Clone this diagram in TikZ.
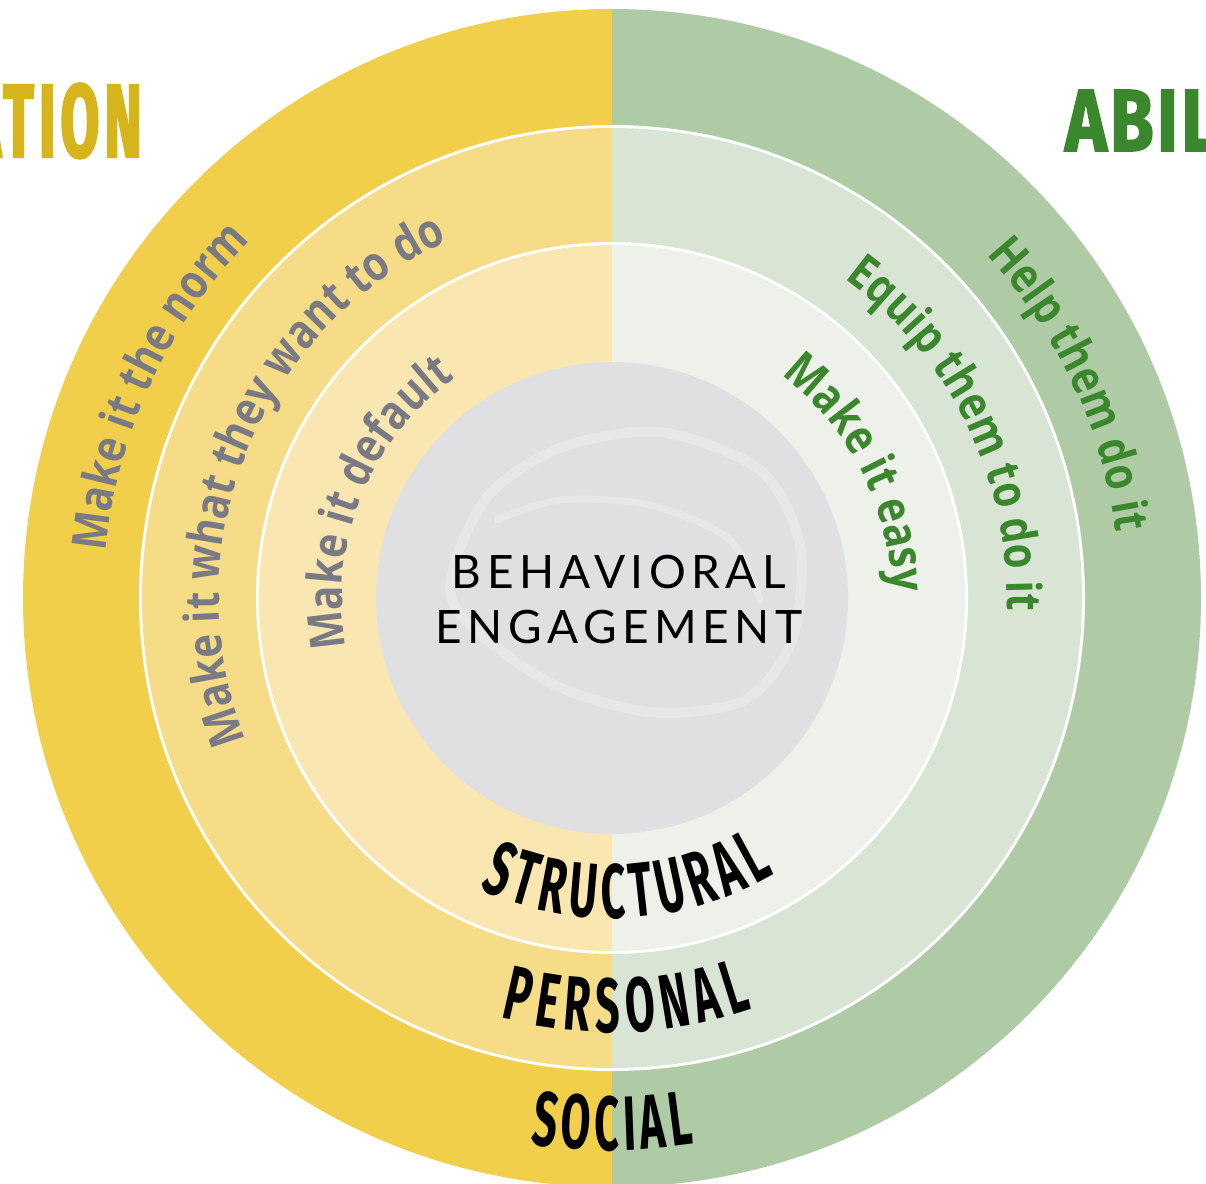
\documentclass[tikz,border=0pt]{standalone}
\usepackage{fontspec}
\usetikzlibrary{decorations.text}
\newfontfamily\ringfont[FakeStretch=0.84]{Open Sans}
\newfontfamily\bandfont[FakeStretch=0.56]{Fira Sans}
\newfontfamily\motivfont[FakeStretch=0.54,FakeBold=2,LetterSpace=5]{Fira Sans}
\newfontfamily\abilfont[FakeStretch=0.8,FakeBold=2,LetterSpace=4]{Fira Sans}
\newfontfamily\corefont[LetterSpace=12]{Lato}
\definecolor{yA}{RGB}{242,207,75}
\definecolor{yB}{RGB}{246,220,135}
\definecolor{yC}{RGB}{250,230,176}
\definecolor{gA}{RGB}{175,203,165}
\definecolor{gB}{RGB}{216,228,212}
\definecolor{gC}{RGB}{238,240,234}
\definecolor{tgray}{RGB}{122,122,132}
\definecolor{tgreen}{RGB}{58,135,45}
\definecolor{motiv}{RGB}{214,180,28}
\definecolor{abil}{RGB}{58,135,45}
\definecolor{coreIn}{RGB}{224,224,226}
\definecolor{coreMid}{RGB}{208,208,211}
\definecolor{coreRim}{RGB}{172,172,177}
\definecolor{coreOut}{RGB}{150,150,156}
\pgfdeclareradialshading{coreball}{\pgfpoint{0bp}{0bp}}{color(0bp)=(coreIn); color(38bp)=(coreIn); color(45bp)=(coreMid); color(49bp)=(coreRim); color(50bp)=(coreOut)}
\tikzset{
  ringlabel/.style={decorate,decoration={text along path,text align=center,text={#1}}},
  swirl/.style={white,opacity=0.25,line width=10,line cap=round},
}
\newcommand{\ringfmt}[1]{\ringfont\bfseries\fontsize{48}{52}\selectfont\color{#1}}
\newcommand{\bandfmt}{\bandfont\bfseries\fontsize{77}{80}\selectfont\color{black}}
\begin{document}
\begin{tikzpicture}[x=1pt,y=1pt]
\useasboundingbox (0,0) rectangle (1206,-1183);
\clip (0,0) rectangle (1206,-1183);
\fill[white] (0,0) rectangle (1206,-1183);
\coordinate (O) at (612,-598);
% outer ring
\fill[yA] (O) ++(90:589) arc[start angle=90,end angle=270,radius=589] -- cycle;
\fill[gA] (O) ++(-90:589) arc[start angle=-90,end angle=90,radius=589] -- cycle;
\fill[white] (O) circle[radius=473];
% middle ring
\fill[yB] (O) ++(90:470) arc[start angle=90,end angle=270,radius=470] -- cycle;
\fill[gB] (O) ++(-90:470) arc[start angle=-90,end angle=90,radius=470] -- cycle;
\fill[white] (O) circle[radius=356];
% inner ring
\fill[yC] (O) ++(90:353) arc[start angle=90,end angle=270,radius=353] -- cycle;
\fill[gC] (O) ++(-90:353) arc[start angle=-90,end angle=90,radius=353] -- cycle;
% core
\shade[shading=coreball] (O) circle[radius=236];
\draw[swirl] plot[smooth cycle] coordinates {(452,-600) (485,-500) (560,-448) (660,-432) (760,-470) (800,-545) (792,-640) (745,-700) (650,-712) (545,-680)};
\draw[swirl,line width=7] plot[smooth] coordinates {(497,-520) (560,-500) (650,-505) (730,-540) (760,-600)};
\node[font=\corefont\fontsize{46}{55}\selectfont,align=center,text=black] (core) at (619,-600) {BEHAVIORAL\\ENGAGEMENT};
% left labels (gray)
\path[ringlabel={|\ringfmt{tgray}|Make it the norm}] (O) ++(215:508) arc[start angle=215,end angle=95,radius=508];
\path[ringlabel={|\ringfmt{tgray}|Make it what they want to do}] (O) ++(240:393) arc[start angle=240,end angle=76,radius=393];
\path[ringlabel={|\ringfmt{tgray}|Make it default}] (O) ++(231:270) arc[start angle=231,end angle=85,radius=270];
% right labels (green)
\path[ringlabel={|\ringfmt{tgreen}|Help them do it}] (O) ++(85:508) arc[start angle=85,end angle=-35,radius=508];
\path[ringlabel={|\ringfmt{tgreen}|Equip them to do it}] (O) ++(100:395) arc[start angle=100,end angle=-48,radius=395];
\path[ringlabel={|\ringfmt{tgreen}|Make it easy}] (O) ++(97:280) arc[start angle=97,end angle=-43,radius=280];
% band labels
\path[ringlabel={|\bandfmt|{S\kern6pt}{T\kern6pt}{R\kern6pt}{U\kern6pt}{C\kern6pt}{T\kern6pt}{U\kern6pt}{R\kern6pt}{A\kern6pt}L}] (O) ++(-147:320) arc[start angle=-147,end angle=-27,radius=320];
\path[ringlabel={|\bandfmt|{P\kern7pt}{E\kern7pt}{R\kern7pt}{S\kern7pt}{O\kern7pt}{N\kern7pt}{A\kern7pt}L}] (O) ++(-148:434) arc[start angle=-148,end angle=-28,radius=434];
\path[ringlabel={|\bandfmt|{S\kern5pt}{O\kern5pt}{C\kern5pt}{I\kern5pt}{A\kern5pt}L}] (O) ++(-150:552) arc[start angle=-150,end angle=-30,radius=552];
% titles
\node[font=\motivfont\bfseries\fontsize{104}{110}\selectfont,text=motiv,anchor=base east,inner sep=0] (mot) at (142,-157) {MOTIVATION};
\node[font=\abilfont\bfseries\fontsize{88}{92}\selectfont,text=abil,anchor=base west,inner sep=0] (abl) at (1065,-151) {ABILITY};
\end{tikzpicture}
\end{document}
